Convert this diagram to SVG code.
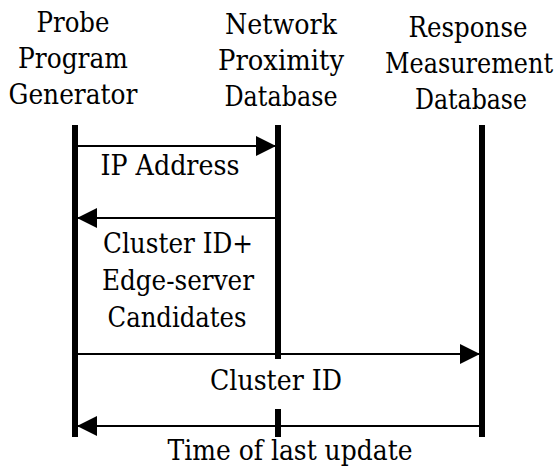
<svg xmlns="http://www.w3.org/2000/svg" width="560" height="472" viewBox="0 0 560 472">
  <style>
    text { font-family: "DejaVu Serif", "Liberation Serif", serif; font-size: 28px; fill: #000; text-anchor: middle; }
    .life { stroke: #000; stroke-width: 6; fill: none; }
    .msg { stroke: #000; stroke-width: 2; fill: none; }
  </style>
  <defs>
    <marker id="head" markerUnits="userSpaceOnUse" markerWidth="20" markerHeight="20" viewBox="0 0 20 20" refX="20" refY="10" orient="auto">
      <path d="M0,0 L20,10 L0,20 Z" fill="#000"/>
    </marker>
  </defs>
  <rect width="560" height="472" fill="#fff"/>

  <!-- participants -->
  <g id="probe-generator">
    <text x="73" y="32" textLength="73" lengthAdjust="spacingAndGlyphs">Probe</text>
    <text x="73" y="68" textLength="110" lengthAdjust="spacingAndGlyphs">Program</text>
    <text x="73" y="104" textLength="129" lengthAdjust="spacingAndGlyphs">Generator</text>
    <line class="life" x1="75" y1="125" x2="75" y2="437"/>
  </g>
  <g id="proximity-db">
    <text x="281" y="34" textLength="112" lengthAdjust="spacingAndGlyphs">Network</text>
    <text x="281" y="70" textLength="126" lengthAdjust="spacingAndGlyphs">Proximity</text>
    <text x="281" y="106" textLength="113" lengthAdjust="spacingAndGlyphs">Database</text>
    <line class="life" x1="278" y1="125" x2="278" y2="359"/>
    <line class="life" x1="278" y1="409" x2="278" y2="437"/>
  </g>
  <g id="measurement-db">
    <text x="468" y="37" textLength="119" lengthAdjust="spacingAndGlyphs">Response</text>
    <text x="469" y="73" textLength="168" lengthAdjust="spacingAndGlyphs">Measurement</text>
    <text x="471" y="109" textLength="112" lengthAdjust="spacingAndGlyphs">Database</text>
    <line class="life" x1="482" y1="125" x2="482" y2="437"/>
  </g>

  <!-- messages -->
  <g id="connectors">
    <line class="msg" x1="78" y1="146" x2="276" y2="146" marker-end="url(#head)"/>
    <line class="msg" x1="275" y1="218" x2="77" y2="218" marker-end="url(#head)"/>
    <line class="msg" x1="78" y1="354" x2="480" y2="354" marker-end="url(#head)"/>
    <line class="msg" x1="479" y1="426" x2="77" y2="426" marker-end="url(#head)"/>
  </g>

  <!-- message labels -->
  <g id="labels">
    <text x="170" y="175" textLength="139" lengthAdjust="spacingAndGlyphs">IP Address</text>
    <text x="178" y="253" textLength="150" lengthAdjust="spacingAndGlyphs">Cluster ID+</text>
    <text x="178" y="290" textLength="152" lengthAdjust="spacingAndGlyphs">Edge-server</text>
    <text x="177" y="327" textLength="139" lengthAdjust="spacingAndGlyphs">Candidates</text>
    <text x="276" y="390" textLength="132" lengthAdjust="spacingAndGlyphs">Cluster ID</text>
    <text x="290" y="460" textLength="245" lengthAdjust="spacingAndGlyphs">Time of last update</text>
  </g>
</svg>
